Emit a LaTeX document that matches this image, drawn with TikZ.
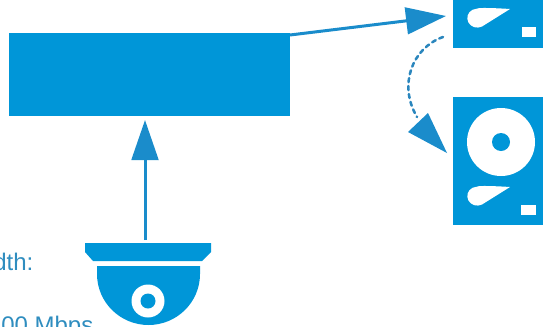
\documentclass[tikz,border=0pt]{standalone}
\usepackage{fontspec}
\setmainfont{Liberation Sans}
\usetikzlibrary{arrows.meta}
\definecolor{cblue}{HTML}{0096D8}
\definecolor{cline}{HTML}{1A8CCB}
\definecolor{cdash}{HTML}{2A86BD}
\definecolor{ctext}{HTML}{2F8DBF}
\tikzset{
  x=0.75pt,y=-0.75pt,
  shapebox/.style={fill=cblue,draw=none,inner sep=0pt,outer sep=0pt,rectangle},
  hole/.style={fill=white,draw=none},
  solidarrow/.style={draw=cline,line width=2.25pt,-{Triangle[length=30pt,width=20pt,fill=cline]}},
  dasharrow/.style={draw=cdash,line width=1.9pt,dash pattern=on 3pt off 3pt,line cap=round},
  label/.style={text=ctext,font=\fontsize{18pt}{20pt}\selectfont,inner sep=0pt,anchor=base west},
}
\begin{document}
\begin{tikzpicture}
\useasboundingbox (0,0) rectangle (543,326);
\clip (0,0) rectangle (543,326);
% main box
\node[shapebox,minimum width=210.75pt,minimum height=62.25pt] (server) at (149.5,74.5) {};
% drives
\node[shapebox,minimum width=67.5pt,minimum height=36pt] (driveA) at (498,23.5) {};
\node[shapebox,minimum width=67.5pt,minimum height=96pt] (driveB) at (498,161) {};
\fill[hole] (501,142) circle (34);
\fill[cblue] (501,142) circle (9);
\fill[hole] (510,187) -- (482,204.5) arc (62:270:10 and 9.5) .. controls (478,185.5) and (495,186) .. cycle;
\fill[hole] (521,205) rectangle (536,215);
\fill[hole] (510,9) -- (482,26.5) arc (62:270:10 and 9.5) .. controls (478,7.5) and (495,8) .. cycle;
\fill[hole] (522,27) rectangle (536,37);
% camera
\fill[cblue] (85,243) -- (211,243) -- (211,252) -- (202,261) -- (93,261) -- (85,252) -- cycle;
\fill[cblue] (97,266) -- (200,266) -- (200,274) arc (0:180:51.5 and 51) -- cycle;
\node[circle,fill=white,minimum size=24.75pt,inner sep=0pt] (lens) at (148,301) {};
\fill[cblue] (lens.center) circle (7.5);
% connectors
\coordinate (upstart) at (145,240);
\coordinate (uptip) at (145,120);
\coordinate (outstart) at (290,35);
\coordinate (outtip) at (446,16);
\draw[solidarrow] (upstart) -- (uptip);
\draw[solidarrow] (outstart) -- (outtip);
\coordinate (dstart) at (443,37);
\coordinate (dend) at (417,117);
\coordinate (dtip) at (447,153);
\draw[dasharrow] (dstart) .. controls (412,48) and (398,85) .. (dend);
\fill[cline] (dtip) -- (408,132) -- (428,113) -- cycle;
% clipped labels
\node[label] (bw) at (-7,270) {dth:};
\node[label] (rate) at (1,333) {00 Mbps};
\end{tikzpicture}
\end{document}
